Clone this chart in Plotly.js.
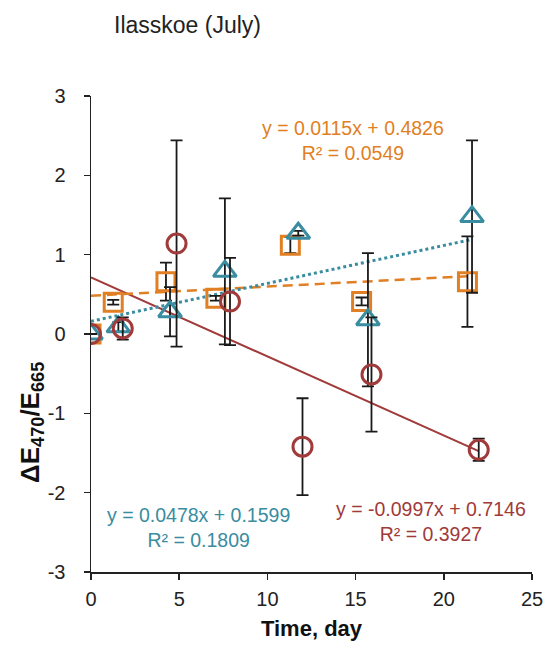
<!DOCTYPE html>
<html>
<head>
<meta charset="utf-8">
<script src="https://cdn.plot.ly/plotly-3.0.1.min.js"></script>
<style>html,body{margin:0;padding:0;background:#fff;}</style>
</head>
<body>
<div id="chart" style="width:548px;height:651px;"></div>
<script>
// ---- data ----
var sqX   = [0, 1.26, 4.25, 7.08, 11.3, 15.34, 21.34];
var sqY   = [0, 0.40, 0.66, 0.45, 1.12, 0.41, 0.66];
var sqErr = [0, 0.03, 0.24, 0.03, 0.10, 0.05, 0.57];

var trX   = [0, 1.55, 4.48, 7.59, 11.75, 15.7, 21.6];
var trY   = [0, 0.09, 0.28, 0.79, 1.27, 0.18, 1.48];
var trErr = [0, 0.06, 0.31, 0.92, 0.03, 0.84, 0.96];

var ciX   = [0, 1.8, 4.85, 7.88, 11.99, 15.9, 21.98];
var ciY   = [0, 0.07, 1.14, 0.41, -1.42, -0.51, -1.46];
var ciErr = [0, 0.14, 1.30, 0.55, 0.61, 0.72, 0.14];

// trendline coefficients (as printed on the chart)
var fitSlope     = [0.0115, 0.0478, -0.0997];
var fitIntercept = [0.4826, 0.1599, 0.7146];
var fitLabels = ["y = 0.0115x + 0.4826<br>R² = 0.0549",
                 "y = 0.0478x + 0.1599<br>R² = 0.1809",
                 "y = -0.0997x + 0.7146<br>R² = 0.3927"];

var yTickVals = [-3, -2, -1, 0, 1, 2, 3];
var yTickText = ["-3", "-2", "-1", "0", "1", "2", "3"];
var xTickVals = [0, 5, 10, 15, 20, 25];
var xTickText = ["0", "5", "10", "15", "20", "25"];

// ---- styling ----
var cOrange = "#E07F24", cTeal = "#3A8CA0", cRed = "#A13A3A";
var FONT = "Arial, 'Liberation Sans', sans-serif";

function fitLine(xs, k, color, dash, width) {
  var x0 = 0, x1 = Math.max.apply(null, xs);
  return {
    x: [x0, x1],
    y: [fitIntercept[k] + fitSlope[k] * x0, fitIntercept[k] + fitSlope[k] * x1],
    mode: "lines", type: "scatter", hoverinfo: "skip", showlegend: false,
    line: {color: color, dash: dash, width: width}
  };
}
function pts(xs, ys, es, color, symbol, size) {
  return {
    x: xs, y: ys, mode: "markers", type: "scatter", showlegend: false,
    marker: {symbol: symbol, size: size, color: color, line: {color: color, width: 3}},
    error_y: {type: "data", array: es, visible: true, color: "#1a1a1a", thickness: 1.8, width: 6}
  };
}

var traces = [
  fitLine(ciX, 2, cRed, "solid", 2),
  fitLine(sqX, 0, cOrange, "10px,6px", 2.5),
  fitLine(trX, 1, cTeal, "dot", 3),
  pts(sqX, sqY, sqErr, cOrange, "square-open", 18),
  pts(trX, trY, trErr, cTeal, "triangle-up-open", 20),
  pts(ciX, ciY, ciErr, cRed, "circle-open", 19)
];

var axisBase = {
  showgrid: false, zeroline: false, showline: true, linecolor: "#222", linewidth: 1.5,
  ticks: "outside", ticklen: 6, tickwidth: 1.5, tickcolor: "#222",
  tickfont: {family: FONT, size: 20, color: "#222"}, tickmode: "array"
};

var layout = {
  width: 548, height: 651,
  margin: {l: 91, r: 16, t: 96, b: 79, pad: 0},
  paper_bgcolor: "#fff", plot_bgcolor: "#fff",
  showlegend: false,
  title: {text: "Ilasskoe (July)", font: {family: FONT, size: 23, color: "#222"},
          x: 114 / 548, xanchor: "left", xref: "container",
          y: 1 - 25 / 651, yanchor: "middle", yref: "container"},
  xaxis: Object.assign({}, axisBase, {
    range: [0, 25], tickvals: xTickVals, ticktext: xTickText, ticklabelstandoff: 2,
    title: {text: "<b>Time, day</b>", font: {family: FONT, size: 22, color: "#111"}, standoff: 12}
  }),
  yaxis: Object.assign({}, axisBase, {
    range: [-3, 3], tickvals: yTickVals, ticktext: yTickText, ticklabelstandoff: 14
  }),
  annotations: [
    {text: "<b>ΔE<sub>470</sub>/E<sub>665</sub></b>", textangle: -90,
     xref: "paper", yref: "paper", x: (31 - 91) / 441, y: (572 - 422) / 476,
     xanchor: "center", yanchor: "middle", showarrow: false,
     font: {family: FONT, size: 26, color: "#111"}},
    {text: fitLabels[0], x: 14.85, y: 2.445, xref: "x", yref: "y", showarrow: false,
     font: {family: FONT, size: 19.5, color: cOrange}, align: "center"},
    {text: fitLabels[1], x: 6.12, y: -2.445, xref: "x", yref: "y", showarrow: false,
     font: {family: FONT, size: 19.5, color: cTeal}, align: "center"},
    {text: fitLabels[2], x: 19.3, y: -2.36, xref: "x", yref: "y", showarrow: false,
     font: {family: FONT, size: 19.5, color: cRed}, align: "center"}
  ]
};

Plotly.newPlot("chart", traces, layout, {displayModeBar: false, staticPlot: true});
</script>
</body>
</html>
